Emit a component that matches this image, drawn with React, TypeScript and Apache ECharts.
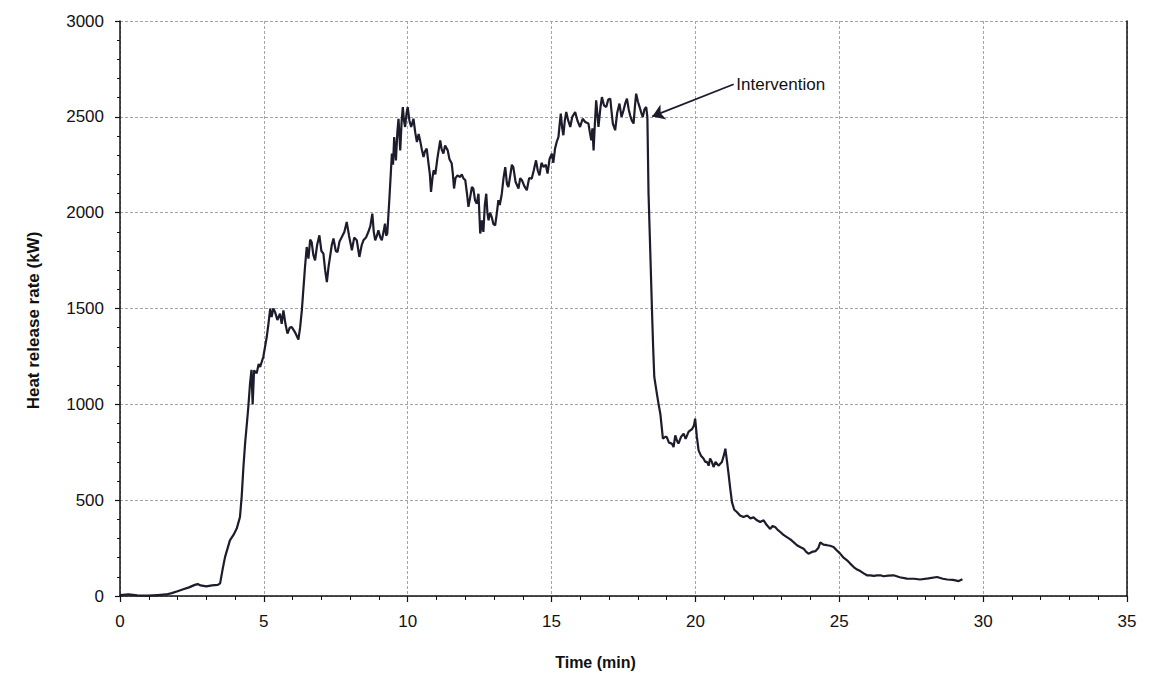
import React, { useEffect, useRef } from "react";
import * as echarts from "echarts";

const timeMin: number[] = [
  0, 0.3, 0.6, 1.0, 1.3, 1.6, 1.8, 2.0, 2.2, 2.4, 2.6, 2.7, 2.8, 3.0, 3.2, 3.4, 3.48, 3.56, 3.65, 3.82, 3.95,
  4.06, 4.17, 4.23, 4.29, 4.35, 4.41, 4.46, 4.52, 4.57, 4.61, 4.66, 4.75, 4.82, 4.87, 4.98,
  5.1, 5.16, 5.22, 5.27, 5.33, 5.39, 5.47, 5.56, 5.62, 5.68, 5.75, 5.82, 5.9, 5.97,
  6.08, 6.2, 6.26, 6.32, 6.43, 6.49, 6.55, 6.61, 6.66, 6.72, 6.78, 6.85, 6.93,
  7.0, 7.07, 7.13, 7.19, 7.25, 7.3, 7.36, 7.42, 7.5, 7.56, 7.63, 7.71, 7.8, 7.88, 7.96,
  8.06, 8.14, 8.23, 8.32, 8.4, 8.46, 8.55, 8.63, 8.7, 8.77, 8.82, 8.87, 8.93, 8.98,
  9.05, 9.1, 9.16, 9.21, 9.25, 9.29, 9.36, 9.41, 9.45, 9.49, 9.53, 9.59, 9.64, 9.68, 9.74, 9.79, 9.83, 9.87, 9.91, 9.96,
  10.0, 10.06, 10.12, 10.2, 10.26, 10.32, 10.38, 10.43, 10.49, 10.55, 10.6, 10.66, 10.72, 10.77, 10.81, 10.86, 10.9, 10.96,
  11.03, 11.08, 11.13, 11.18, 11.24, 11.3, 11.39, 11.45, 11.53, 11.57, 11.61, 11.66, 11.73, 11.82, 11.88, 11.94,
  12.0, 12.06, 12.11, 12.17, 12.23, 12.28, 12.34, 12.4, 12.46, 12.52, 12.55, 12.58, 12.63, 12.68, 12.73, 12.77, 12.81, 12.86, 12.92, 12.98,
  13.04, 13.1, 13.15, 13.2, 13.27, 13.33, 13.39, 13.45, 13.5, 13.57, 13.62, 13.67, 13.75, 13.85, 13.91, 13.97,
  14.05, 14.14, 14.22, 14.31, 14.38, 14.46, 14.52, 14.58, 14.65, 14.72, 14.8, 14.86, 14.93,
  15.01, 15.06, 15.12, 15.18, 15.24, 15.28, 15.32, 15.37, 15.41, 15.46, 15.51, 15.58, 15.65, 15.72, 15.82, 15.9, 15.99,
  16.08, 16.17, 16.28, 16.33, 16.38, 16.42, 16.46, 16.5, 16.55, 16.6, 16.63, 16.7, 16.75, 16.82, 16.9, 16.97,
  17.04, 17.09, 17.13, 17.21, 17.28, 17.36, 17.43, 17.5, 17.56, 17.62, 17.68, 17.73, 17.79, 17.85, 17.9, 17.94,
  18.0, 18.06, 18.12, 18.17, 18.23, 18.29, 18.33, 18.37, 18.43, 18.49, 18.53, 18.57, 18.66, 18.72, 18.78, 18.87, 18.95,
  19.0, 19.08, 19.18, 19.24, 19.3, 19.36, 19.41, 19.5, 19.59, 19.66, 19.76, 19.82, 19.88, 19.95, 19.99,
  20.05, 20.11, 20.2, 20.28, 20.34, 20.4, 20.46, 20.51, 20.57, 20.63, 20.7, 20.8, 20.92,
  21.0, 21.04, 21.1, 21.15, 21.21, 21.27, 21.35, 21.44, 21.55, 21.67, 21.8, 21.91,
  22.02, 22.14, 22.25, 22.37, 22.48, 22.6, 22.68, 22.77, 22.86, 22.95,
  23.05, 23.15, 23.3, 23.42, 23.53, 23.64, 23.76, 23.85, 23.93,
  24.05, 24.17, 24.27, 24.34, 24.45, 24.57, 24.68, 24.8, 24.9,
  25.03, 25.15, 25.27, 25.38, 25.5, 25.62, 25.73, 25.85, 25.96,
  26.08, 26.2, 26.31, 26.43, 26.54, 26.7, 26.89, 27.1, 27.35, 27.6, 27.81,
  28.1, 28.4, 28.6, 28.75, 28.95, 29.15, 29.28,
];

const heatReleaseKW: number[] = [
  5, 8, 3, 2, 5, 8, 15, 25, 35, 45, 58, 62, 55, 50, 55, 58, 66, 134, 203, 290, 320,
  353, 412, 520, 673, 800, 900, 986, 1110, 1180, 1000, 1177, 1162, 1210, 1195, 1247,
  1351, 1420, 1499, 1455, 1500, 1481, 1440, 1473, 1420, 1490, 1420, 1369, 1400, 1403,
  1377, 1338, 1400, 1490, 1716, 1821, 1760, 1860, 1847, 1780, 1751, 1830, 1882,
  1800, 1786, 1700, 1638, 1720, 1769, 1830, 1865, 1800, 1795, 1850, 1873, 1900, 1951, 1880,
  1804, 1870, 1856, 1769, 1830, 1856, 1870, 1899, 1930, 1995, 1900, 1856, 1880, 1908,
  1870, 1856, 1900, 1943, 1880, 1891, 2065, 2200, 2308, 2250, 2395, 2273, 2420, 2490, 2325, 2480, 2551, 2480, 2447, 2520,
  2551, 2480, 2447, 2490, 2420, 2369, 2410, 2377, 2330, 2290, 2320, 2334, 2260, 2200, 2108, 2180, 2221, 2200,
  2282, 2330, 2377, 2330, 2308, 2350, 2325, 2280, 2256, 2200, 2126, 2180, 2195, 2186, 2200, 2178,
  2170, 2100, 2030, 2080, 2134, 2126, 2065, 2047, 2099, 1891, 1920, 1960, 1900, 2040, 2099, 2000, 1960, 2000, 1977, 1940,
  1934, 2000, 2065, 2040, 2099, 2180, 2238, 2150, 2134, 2200, 2250, 2238, 2160, 2126, 2180, 2169,
  2140, 2117, 2180, 2178, 2220, 2273, 2220, 2195, 2260, 2238, 2250, 2204, 2280,
  2308, 2260, 2334, 2370, 2395, 2460, 2517, 2440, 2404, 2480, 2525, 2480, 2447, 2500, 2525, 2480, 2447,
  2490, 2473, 2465, 2420, 2377, 2440, 2325, 2450, 2586, 2500, 2447, 2550, 2603, 2560, 2551, 2590,
  2595, 2520, 2465, 2430, 2520, 2569, 2500, 2534, 2570, 2595, 2540, 2508, 2480, 2465, 2560, 2621,
  2580, 2551, 2520, 2499, 2540, 2551, 2499, 2100, 1800, 1490, 1300, 1143, 1056, 1000, 951, 821, 830,
  830, 800, 795, 777, 838, 810, 795, 830, 847, 820, 856, 864, 870, 890, 925,
  830, 760, 730, 717, 700, 700, 680, 717, 700, 673, 700, 680, 699,
  740, 769, 700, 638, 560, 490, 450, 438, 420, 412, 420, 405,
  410, 395, 386, 395, 370, 350, 365, 360, 345, 334,
  320, 310, 295, 280, 265, 256, 247, 230, 221,
  230, 234, 250, 280, 268, 265, 262, 256, 240,
  221, 200, 186, 169, 151, 138, 130, 118, 108,
  108, 105, 108, 108, 103, 106, 108, 98, 91, 90, 86,
  92, 99, 90, 86, 84, 78, 87,
];

const xTicks = { min: 0, max: 35, interval: 5 };
const yTicks = { min: 0, max: 3000, interval: 500 };

const annotationText = "Intervention";
const annotationLabelPoint: [number, number] = [21.42, 2670];
const arrowStart: [number, number] = [21.33, 2670];
const arrowEnd: [number, number] = [18.5, 2502];

const FONT = "'Liberation Sans', Arial, Helvetica, sans-serif";

export default function App() {
  const ref = useRef<HTMLDivElement>(null);

  useEffect(() => {
    if (!ref.current) return;
    const chart = echarts.init(ref.current, undefined, { renderer: "svg" });
    const data = timeMin.map((t, i) => [t, heatReleaseKW[i]]);
    const gridLine = { color: "#a4a4a4", width: 1, type: [3, 2] as number[] };
    chart.setOption({
      animation: false,
      backgroundColor: "#ffffff",
      textStyle: { fontFamily: FONT },
      grid: { left: 120, right: 23, top: 21, bottom: 81, containLabel: false },
      xAxis: {
        type: "value",
        min: xTicks.min,
        max: xTicks.max,
        interval: xTicks.interval,
        name: "Time (min)",
        nameLocation: "middle",
        nameGap: 58,
        nameTextStyle: { fontSize: 16, fontWeight: "bold", color: "#111", fontFamily: FONT, padding: [0, 56, 0, 0] },
        axisLine: { show: true, onZero: false, lineStyle: { color: "#111", width: 1.5 } },
        axisTick: { show: true, length: 6, lineStyle: { color: "#111", width: 1.2 } },
        minorTick: { show: true, splitNumber: 5, length: 4, lineStyle: { color: "#111", width: 1 } },
        axisLabel: { fontSize: 17, color: "#111", margin: 17, fontFamily: FONT, formatter: (v: number) => String(v) },
        splitLine: { show: true, lineStyle: gridLine },
      },
      yAxis: [
        {
          type: "value",
          min: yTicks.min,
          max: yTicks.max,
          interval: yTicks.interval,
          name: "Heat release rate (kW)",
          nameLocation: "middle",
          nameGap: 78,
          nameTextStyle: { fontSize: 17, fontWeight: "bold", color: "#111", fontFamily: FONT, padding: [0, 24, 0, 0] },
          axisLine: { show: true, lineStyle: { color: "#111", width: 1.5 } },
          axisTick: { show: true, length: 5, lineStyle: { color: "#111", width: 1.2 } },
          minorTick: { show: true, splitNumber: 5, length: 3, lineStyle: { color: "#111", width: 1 } },
          axisLabel: { fontSize: 17, color: "#111", margin: 16, fontFamily: FONT, formatter: (v: number) => String(v) },
          splitLine: { show: true, lineStyle: gridLine },
        },
        {
          type: "value",
          position: "right",
          min: yTicks.min,
          max: yTicks.max,
          interval: yTicks.interval,
          axisLine: { show: true, lineStyle: { color: "#111", width: 1.5 } },
          axisTick: { show: false },
          axisLabel: { show: false },
          splitLine: { show: false },
        },
      ],
      series: [
        {
          type: "line",
          data,
          showSymbol: false,
          symbol: "none",
          lineStyle: { color: "#1c1c2c", width: 2.2 },
          silent: true,
          markLine: {
            silent: true,
            symbol: ["none", "arrow"],
            symbolSize: 12,
            label: { show: false },
            lineStyle: { color: "#1c1c2c", width: 1.8, type: "solid" },
            data: [[{ coord: arrowStart }, { coord: arrowEnd }]],
          },
          markPoint: {
            silent: true,
            symbol: "circle",
            symbolSize: 0,
            data: [
              {
                coord: annotationLabelPoint,
                label: {
                  show: true,
                  position: "right",
                  distance: 0,
                  formatter: annotationText,
                  fontSize: 17,
                  color: "#111",
                  fontFamily: FONT,
                },
              },
            ],
          },
        },
      ],
    });
    return () => chart.dispose();
  }, []);

  return (
    <div
      ref={ref}
      style={{ position: "fixed", left: 0, top: 0, width: 1150, height: 677, background: "#fff" }}
    />
  );
}
